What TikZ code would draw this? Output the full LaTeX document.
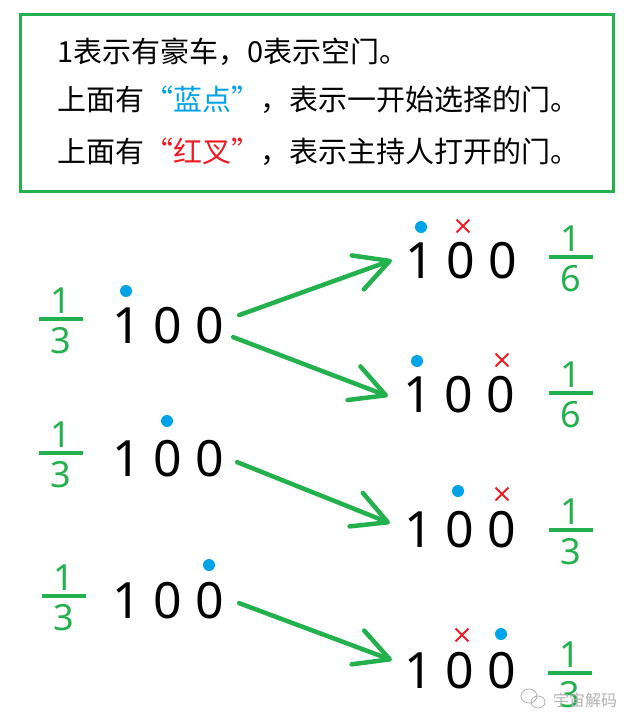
\documentclass[tikz,border=0pt]{standalone}
\usepackage{fontspec}
\setmainfont{Noto Sans}
\newfontfamily\cjkfont{Noto Sans CJK SC}
\usetikzlibrary{arrows.meta,shapes.misc,calc}
\definecolor{mgreen}{RGB}{34,177,76}
\definecolor{mblue}{RGB}{0,162,232}
\definecolor{mred}{RGB}{237,28,36}

\begin{document}
\begin{tikzpicture}[x=1pt,y=1pt,yscale=-1,xscale=1,
  doors/.style={font=\fontsize{50}{50}\selectfont, inner sep=0pt, anchor=base},
  num/.style={text=mgreen, font=\fontsize{36}{36}\selectfont, inner sep=0pt, anchor=base},
  note/.style={font=\cjkfont\fontsize{29}{29}\selectfont, inner sep=0pt, anchor=base west},
  pick/.style={circle, fill=mblue, inner sep=0pt, minimum size=12pt},
  open/.style={cross out, draw=mred, line width=1.8pt, inner sep=0pt, minimum size=11pt},
  branch/.style={draw=mgreen, line width=4.5pt, line cap=round, -{Straight Barb[length=34pt,width=36pt,round]}}]
  \useasboundingbox (0,0) rectangle (635,727);

  % legend
  \node[draw=mgreen, line width=3pt, minimum width=593pt, minimum height=177pt, inner sep=0pt] (legend) at (316.5,103.5) {};
  \node[note] (line1) at (57,63) {1表示有豪车，0表示空门。};
  \node[note] (line2) at (57,111) {上面有\textcolor{mblue}{“蓝点”}，表示一开始选择的门。};
  \node[note] (line3) at (57,163) {上面有\textcolor{mred}{“红叉”}，表示主持人打开的门。};

  % doors
  \node[doors] (l1) at (168,343) {1 0 0};
  \node[doors] (l2) at (168,476) {1 0 0};
  \node[doors] (l3) at (168,618) {1 0 0};
  \node[doors] (r1) at (461,278) {1 0 0};
  \node[doors] (r2) at (459,412) {1 0 0};
  \node[doors] (r3) at (460,547) {1 0 0};
  \node[doors] (r4) at (460,688) {1 0 0};

  % marks
  \node[pick] (p1) at (126,291) {};
  \node[pick] (p2) at (167,421) {};
  \node[pick] (p3) at (209,565) {};
  \node[pick] (p4) at (421,227) {};
  \node[pick] (p5) at (417,361) {};
  \node[pick] (p6) at (458,491) {};
  \node[pick] (p7) at (501,634) {};
  \node[open] (o1) at (463,226) {};
  \node[open] (o2) at (502,360) {};
  \node[open] (o3) at (502,494) {};
  \node[open] (o4) at (462,635) {};

  % probabilities
  \foreach \fx/\fy/\fd [count=\i] in {61/319/3, 61/453/3, 64/596/3, 571/257/6, 571/393/6, 571/530/3, 570/673/3} {
    \node[num] (n\i) at (\fx,\fy-6) {1};
    \node[num] (d\i) at (\fx,\fy+34) {\fd};
    \draw[mgreen, line width=3.5pt] (\fx-22,\fy) -- (\fx+22,\fy);
  }

  % branches
  \draw[branch] ($(l1.east)+(15,-10)$) -- ($(r1.west)+(-13,0)$);
  \draw[branch] ($(l1.east)+(9,12)$) -- ($(r2.west)+(-15,2)$);
  \draw[branch] ($(l2.east)+(13,4)$) -- ($(r3.west)+(-14,-6)$);
  \draw[branch] ($(l3.east)+(15,3)$) -- ($(r4.west)+(-12,-10)$);

  % watermark
  \draw[gray!60, line width=0.8pt] (529,696) ellipse (8 and 7) (538,702) ellipse (7 and 6);
  \node[font=\cjkfont\fontsize{16}{16}\selectfont, text=gray!60, inner sep=0pt] (mark) at (585,700) {宇宙解码};
\end{tikzpicture}
\end{document}
